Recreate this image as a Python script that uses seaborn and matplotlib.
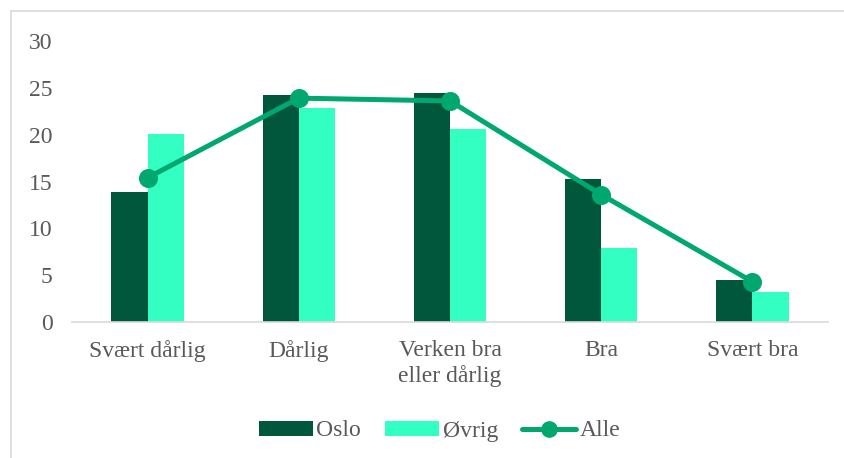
import matplotlib
matplotlib.use("Agg")
import matplotlib.pyplot as plt
import seaborn as sns
import pandas as pd
from matplotlib.patches import Patch
from matplotlib.lines import Line2D

categories = ["Svært dårlig", "Dårlig", "Verken bra\neller dårlig", "Bra", "Svært bra"]
oslo = [13.9, 24.2, 24.5, 15.3, 4.45]
ovrig = [20.1, 22.8, 20.6, 7.9, 3.2]
alle = [15.4, 23.9, 23.6, 13.6, 4.3]
series_names = ["Oslo", "Øvrig", "Alle"]
yticks = [0, 5, 10, 15, 20, 25, 30]

c_oslo = "#01573B"
c_ovrig = "#33FFC2"
c_alle = "#00A870"
text_color = "#595959"
fs = 17

sns.set_theme(style="white")
plt.rcParams["font.family"] = ["Liberation Serif", "DejaVu Serif"]

bars = pd.DataFrame({
    "kategori": categories * 2,
    "verdi": oslo + ovrig,
    "serie": [series_names[0]] * 5 + [series_names[1]] * 5,
})
line_df = pd.DataFrame({"kategori": categories, "verdi": alle})

fig = plt.figure(figsize=(8.45, 4.58), dpi=100)
ax = fig.add_axes([72 / 845, 1 - 322 / 458, 756 / 845, 281 / 458])

sns.barplot(data=bars, x="kategori", y="verdi", hue="serie", order=categories,
            palette=[c_oslo, c_ovrig], width=0.48, gap=0, saturation=1,
            legend=False, ax=ax, linewidth=0)
sns.pointplot(data=line_df, x="kategori", y="verdi", order=categories,
              color=c_alle, markers="o", markersize=11, linewidth=3.6, ax=ax)

ax.set_xlim(-0.5, 4.5)
ax.set_ylim(0, 30)
ax.set_yticks(yticks)
ax.set_yticklabels([str(v) for v in yticks])
ax.set_xlabel("")
ax.set_ylabel("")
for s in ["top", "right", "left"]:
    ax.spines[s].set_visible(False)
ax.spines["bottom"].set_color("#D9D9D9")
ax.spines["bottom"].set_linewidth(1.2)
ax.tick_params(axis="both", length=0, labelsize=fs, colors=text_color)
ax.tick_params(axis="y", pad=14)
ax.tick_params(axis="x", pad=13)
for lbl in ax.get_xticklabels():
    lbl.set_linespacing(1.25)

handles = [
    Patch(facecolor=c_oslo, edgecolor="none", label=series_names[0]),
    Patch(facecolor=c_ovrig, edgecolor="none", label=series_names[1]),
    Line2D([0], [0], color=c_alle, lw=3.6, marker="o", markersize=11, label=series_names[2]),
]
leg = fig.legend(handles=handles, loc="center", bbox_to_anchor=(0.52, 1 - 431 / 458),
                 ncol=3, frameon=False, fontsize=fs, handlelength=2.3, handleheight=0.6,
                 handletextpad=0.15, columnspacing=1.0)
for t in leg.get_texts():
    t.set_color(text_color)

# chart border (top and left visible)
fig.add_artist(Line2D([11 / 845, 11 / 845], [0, 1 - 11 / 458], transform=fig.transFigure,
                      color="#D9D9D9", lw=1.2))
fig.add_artist(Line2D([11 / 845, 1], [1 - 11 / 458, 1 - 11 / 458], transform=fig.transFigure,
                      color="#D9D9D9", lw=1.2))

fig.savefig("out.png", dpi=100)
